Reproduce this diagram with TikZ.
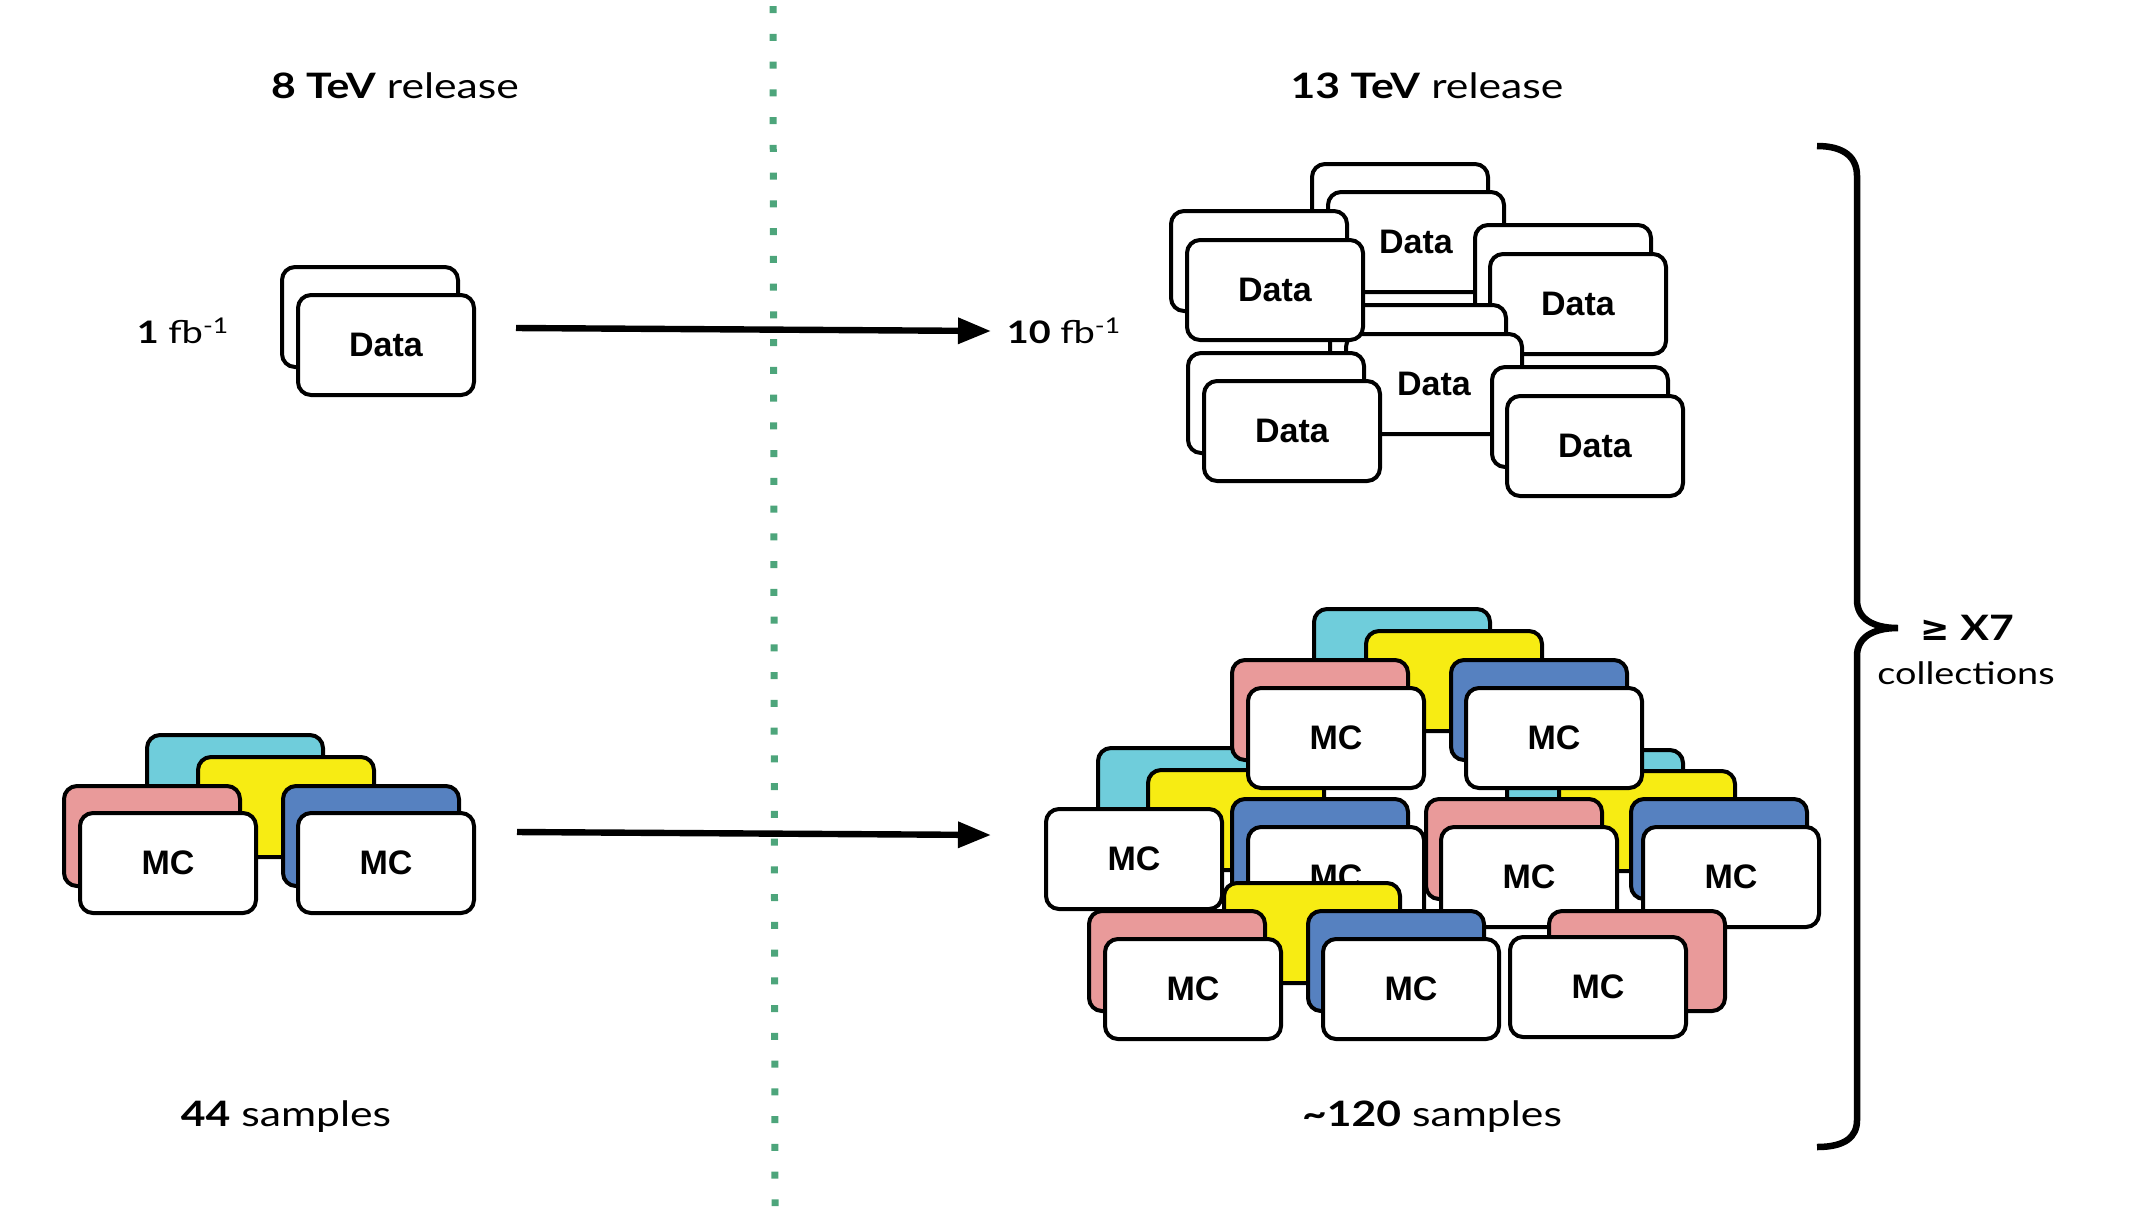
\documentclass[tikz,border=0pt]{standalone}
\usepackage{fontspec}
\setmainfont{Lato}[FakeStretch=1.22]
\newfontfamily\cardfont{Liberation Sans}
\newfontfamily\symfont{DejaVu Sans}
\usetikzlibrary{arrows.meta}
\definecolor{cardcyan}{RGB}{111,205,219}
\definecolor{cardyellow}{RGB}{247,236,19}
\definecolor{cardpink}{RGB}{233,154,154}
\definecolor{cardblue}{RGB}{86,129,192}
\definecolor{dotgreen}{RGB}{77,165,123}
\newcommand\card[5]{\node[card,fill=#4] (#1) at (#2,#3) {#5};}
\begin{document}
\begin{tikzpicture}[x=0.5pt,y=-0.5pt,
  card/.style={draw=black, line width=2pt, rounded corners=6.5pt,
    minimum width=88pt, minimum height=50pt, inner sep=0pt, outer sep=0pt,
    anchor=north west, font=\cardfont\bfseries\fontsize{17}{20}\selectfont},
  title/.style={inner sep=0pt, font=\fontsize{17.5}{20}\selectfont},
  side/.style={inner sep=0pt, font=\fontsize{15.5}{18}\selectfont},
  flow/.style={line width=3.2pt, -{Triangle[length=16.5pt,width=12.5pt]}},
  dots/.style={draw=dotgreen, line width=3.5pt, dash pattern=on 3.5pt off 10.375pt},
  brace/.style={line width=3.25pt, line cap=butt}
]
\useasboundingbox (0,0) rectangle (2135,1206);

% dotted separator
\coordinate (dtop) at (773,6);
\coordinate (dbot) at (775,1206);
\draw[dots] (dtop) -- (dbot);

% titles
\node[title] (t8) at (395,86) {\textbf{8 TeV} release};
\node[title] (t13) at (1427,86) {\textbf{13 TeV} release};
\node[side] (l1) at (183,331) {\textbf{1} fb\textsuperscript{-1}};
\node[side] (l10) at (1064,331) {\textbf{10} fb\textsuperscript{-1}};
\node[title] (s44) at (286,1117) {\textbf{44} samples};
\node[title] (s120) at (1432,1117) {\textbf{\textasciitilde120} samples};
\node[title] (x7) at (1967,628) {{\symfont\bfseries ≥} \textbf{X7}};
\node[side] (coll) at (1966,673) {collections};

% left data
\card{d0b}{282}{267}{white}{}
\card{d0}{298}{295}{white}{Data}

% left MC cluster
\card{lc}{147}{735}{cardcyan}{}
\card{ly}{198}{757}{cardyellow}{}
\card{lp}{64}{786}{cardpink}{}
\card{lb}{283}{786}{cardblue}{}
\card{lm1}{80}{813}{white}{MC}
\card{lm2}{298}{813}{white}{MC}

% right data
\card{d1b}{1312}{164}{white}{}
\card{d1}{1328}{192}{white}{Data}
\card{d3b}{1475}{225}{white}{}
\card{d3}{1490}{254}{white}{Data}
\card{d4b}{1330}{305}{white}{}
\card{d4}{1346}{334}{white}{Data}
\card{d2b}{1171}{211}{white}{}
\card{d2}{1187}{240}{white}{Data}
\card{d5b}{1188}{353}{white}{}
\card{d5}{1204}{381}{white}{Data}
\card{d6b}{1492}{367}{white}{}
\card{d6}{1507}{396}{white}{Data}

% right MC: cluster B
\card{bc}{1098}{748}{cardcyan}{}
\card{by}{1148}{770}{cardyellow}{}
\card{bb}{1232}{799}{cardblue}{}
\card{bm2}{1248}{827}{white}{MC}
% cluster C
\card{cc}{1507}{750}{cardcyan}{}
\card{cy}{1559}{771}{cardyellow}{}
\card{cp}{1426}{799}{cardpink}{}
\card{cb}{1631}{799}{cardblue}{}
\card{cm1}{1441}{827}{white}{MC}
\card{cm2}{1643}{827}{white}{MC}
% cluster A
\card{ac}{1314}{609}{cardcyan}{}
\card{ay}{1366}{631}{cardyellow}{}
\card{ap}{1232}{660}{cardpink}{}
\card{ab}{1451}{660}{cardblue}{}
\card{am1}{1248}{688}{white}{MC}
\card{am2}{1466}{688}{white}{MC}
% standalone
\card{sm}{1046}{809}{white}{MC}
% cluster D
\card{dy}{1224}{883}{cardyellow}{}
\card{dp}{1089}{911}{cardpink}{}
\card{db}{1308}{911}{cardblue}{}
\card{dm1}{1105}{939}{white}{MC}
\card{dm2}{1323}{939}{white}{MC}
% E
\card{ep}{1549}{911}{cardpink}{}
\card{em}{1510}{937}{white}{MC}

% arrows
\coordinate (a1s) at (516,328);
\coordinate (a1e) at (991,331);
\coordinate (a2s) at (517,832);
\coordinate (a2e) at (991,835);
\draw[flow] (a1s) -- (a1e);
\draw[flow] (a2s) -- (a2e);

% brace
\coordinate (btop) at (1817,146);
\coordinate (btip) at (1898,628);
\coordinate (bbot) at (1817,1147);
\draw[brace] (btop) .. controls (1845,146) and (1857,158) .. (1857,176)
  -- (1857,600) .. controls (1857,618) and (1872,628) .. (btip)
  .. controls (1872,628) and (1857,638) .. (1857,656)
  -- (1857,1120) .. controls (1857,1137) and (1845,1147) .. (bbot);
\end{tikzpicture}
\end{document}
